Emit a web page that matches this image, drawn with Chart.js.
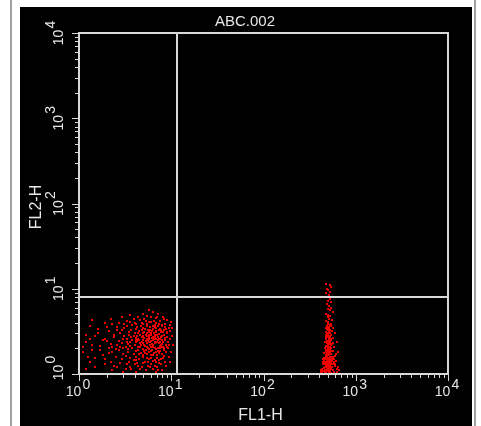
<!DOCTYPE html>
<html><head><meta charset="utf-8">
<script src="https://cdn.jsdelivr.net/npm/chart.js@4/dist/chart.umd.min.js"></script>
<style>html,body{margin:0;padding:0;background:#fff;}canvas{display:block;}</style>
</head><body>
<canvas id="c" width="481" height="426"></canvas>
<script>
const chartTitle = "ABC.002";
const xTitle = "FL1-H";
const yTitle = "FL2-H";
const decadeExponents = [0, 1, 2, 3, 4];
const quadrantX = 11.5;
const quadrantY = 8;
// FL1-H / FL2-H events, lower-left population
const lowEvents = [
[5.8,5.6],[6.3,5.3],[4.9,5.1],[7.2,5.0],[3.6,4.9],[5.4,4.8],[8.1,4.7],[2.9,4.6],[6.8,4.5],[4.4,4.6],[9.0,4.3],[5.1,4.4],[3.3,4.2],[7.6,4.2],[6.0,4.1],[2.2,4.4],[1.4,4.3],[1.9,4.0],[4.0,4.0],[8.6,3.9],
[5.5,3.9],[6.6,3.8],[3.8,3.8],[7.9,3.7],[4.7,3.7],[2.6,3.6],[5.9,3.6],[9.4,3.5],[6.9,3.5],[3.1,3.5],[4.2,3.4],[5.2,3.4],[7.3,3.3],[8.4,3.3],[1.6,3.4],[2.1,3.2],[6.2,3.2],[4.5,3.2],[5.7,3.1],[3.5,3.1],[7.7,3.1],[6.5,3.0],[4.9,3.0],[8.9,3.0],[2.8,3.0],[5.3,2.9],[6.1,2.9],[7.0,2.9],[3.9,2.8],[4.3,2.8],[1.2,2.9],[8.0,2.8],[5.8,2.7],[6.7,2.7],[2.4,2.7],[4.8,2.7],[7.5,2.6],[3.3,2.6],[5.5,2.6],[9.7,2.6],[6.3,2.5],[4.1,2.5],[7.1,2.5],[1.8,2.5],[5.0,2.5],
[5.9,2.4],[6.9,2.4],[3.6,2.4],[8.2,2.4],[4.6,2.3],[5.4,2.3],[2.9,2.3],[7.4,2.3],[6.4,2.2],[4.0,2.2],[1.4,2.2],[5.1,2.2],[8.7,2.2],[7.8,2.1],[3.2,2.1],[6.0,2.1],[4.4,2.1],[2.3,2.1],[5.6,2.0],[6.6,2.0],[9.2,2.0],[3.8,2.0],[7.2,2.0],[4.9,1.95],[2.7,1.9],[5.3,1.9],[6.2,1.9],[8.3,1.9],[1.7,1.9],[4.2,1.85],[7.6,1.85],[3.4,1.8],[5.8,1.8],[6.8,1.8],[1.1,1.8],[4.7,1.75],[2.1,1.75],[8.0,1.7],[5.5,1.7],[3.0,1.7],[6.4,1.65],[7.0,1.65],[4.1,1.6],[2.5,1.6],[5.0,1.6],[9.5,1.6],[3.6,1.55],[6.1,1.55],[1.5,1.55],[7.7,1.5],[4.5,1.5],[5.7,1.5],[2.9,1.5],
[6.6,1.45],[3.9,1.45],[8.5,1.4],[5.2,1.4],[1.3,1.4],[2.2,1.4],[7.3,1.35],[4.3,1.35],[6.0,1.3],[3.3,1.3],[1.9,1.3],[5.6,1.25],[8.8,1.25],[4.8,1.2],[2.6,1.2],[7.0,1.2],[3.7,1.15],[6.4,1.15],[1.2,1.15],[5.3,1.1],[2.3,1.1],[7.9,1.1],[4.1,1.05],[3.0,1.05],[6.8,1.05],[1.6,1.0],[5.0,1.0],[3.5,1.0],[7.5,1.0],[4.6,1.0],[2.0,1.0],[9.1,1.0],[5.9,1.0],
[1.0,3.1],[1.0,2.0],[1.0,1.6],[1.0,2.6],[1.0,1.3],
[4.3,3.6],[5.0,3.5],[6.4,3.4],[7.5,3.4],[8.6,3.6],[3.7,3.3],[5.6,3.3],[6.8,3.2],[8.1,3.1],[4.0,3.0],[5.1,3.15],[7.3,2.95],[6.0,3.05],[3.5,2.85],[4.6,2.9],[5.5,2.8],[6.4,2.75],[7.8,2.75],[8.6,2.65],[4.4,2.6],[5.1,2.65],[6.9,2.6],[3.0,2.55],[6.0,2.45],[7.6,2.4],[4.8,2.4],[5.7,2.35],[6.7,2.3],[8.0,2.25],[3.4,2.25],[4.3,2.45],[5.2,2.15],[6.3,2.05],[7.5,2.15],[4.6,2.05],[5.9,2.2],[8.9,2.1],[3.6,2.15],[6.9,1.95],[5.1,1.85],[4.4,1.9],[6.5,1.75],[7.3,1.75],[5.7,1.95],[3.9,1.7],[4.9,1.65],[6.0,1.68],[8.4,1.62],[5.4,1.55],[7.0,1.52],[3.2,1.62],[4.2,1.45],[6.3,1.42],[5.0,1.35],[7.7,1.3],[2.8,1.35],[5.9,1.2],[4.4,1.25],[6.9,1.38],[3.6,1.22],[2.4,2.9],[2.0,2.45],[1.5,2.8],[2.6,3.3],[3.1,3.9],[1.3,3.7],[2.3,3.85],[1.2,2.4],[1.7,2.15],[2.5,1.95],[9.8,3.2],[9.3,2.4],[10.2,2.8],[9.9,1.8],[10.0,4.1],[9.6,3.8],[8.3,4.4],[7.0,4.7],[6.0,4.6],[5.3,4.2],[4.6,4.3],[3.9,4.4],[6.5,4.2],[7.4,3.9],[4.1,3.9],[5.0,3.85],[5.9,3.3],[6.3,3.65],[7.1,3.65],[3.3,3.7],[4.8,3.25],[2.9,3.25],[8.3,2.9],[9.1,2.75],[1.9,2.55],[2.2,2.25],[1.4,1.9],[2.8,2.05],[1.8,1.65],[2.4,1.25],
[6.2,2.65],[7.2,2.7],[5.3,2.45],[4.7,2.2],[6.6,2.4],[7.9,2.5],[5.8,2.9],[6.9,3.1],[4.2,2.65],[3.8,2.5],[5.4,3.0],[7.6,2.0],[8.5,2.5],[6.1,1.85],[5.2,1.75],[4.5,1.7],[7.1,1.85],[8.1,2.05],[3.4,1.95],[6.5,2.55],[5.6,2.5],[4.9,2.8],[7.8,3.3],[8.8,3.4],[6.7,3.6],[5.4,3.7],[4.4,3.05],[3.1,2.8],[2.7,2.45],[2.1,2.0],[3.5,1.4],[4.0,1.3],[6.6,1.25],[7.4,1.45],[8.2,1.55],[9.4,2.2],[9.0,3.1],[10.4,2.2],[10.1,3.5],[8.0,3.8],[6.9,4.0],[5.7,4.1],[4.8,4.0],[3.6,4.1],[2.7,4.0],[2.0,3.6],[1.6,3.0],[1.3,2.6],[1.1,2.1],[1.25,1.6],[1.5,1.2],[1.9,1.5],[2.3,1.8],[2.6,2.2],[3.0,2.0],[3.3,2.35],[3.7,2.7],[4.1,2.35],[4.5,2.5],[5.0,2.3],[5.4,2.05],[5.8,2.55],[6.2,2.25],[6.6,2.85],[7.0,2.35],[7.4,2.55],[7.8,2.2],[8.4,2.0],[8.8,1.8],[9.6,1.4],[5.6,1.4],[4.6,1.15],[3.2,1.15],[7.2,1.1],[8.0,1.0],[6.4,1.0],[4.1,1.0],[2.7,1.0]
];
// FL1-H / FL2-H events, bright FL1 population
const highEvents = [
[470,11.5],[520,11.0],[545,10.5],[490,10.0],[505,9.6],[530,9.2],[480,8.8],[510,8.5],[495,8.0],[525,7.6],[500,7.2],[540,6.9],[485,6.6],[515,6.3],[535,6.0],[498,5.8],[520,5.6],[560,5.3],[480,5.1],[505,4.9],[530,4.8],[495,4.6],[515,4.4],[550,4.3],[475,4.2],[500,4.05],
[540,3.9],[520,3.8],[490,3.7],[505,3.6],[560,3.5],[480,3.45],[515,3.4],[530,3.3],[495,3.25],[550,3.2],[470,3.15],[510,3.1],[525,3.05],[600,3.0],[488,2.95],[540,2.9],[505,2.85],[520,2.8],[470,2.75],[495,2.7],[560,2.65],[530,2.6],[480,2.55],[512,2.5],[545,2.48],[500,2.45],[620,2.4],[465,2.35],[525,2.32],[490,2.3],[555,2.25],[508,2.22],[535,2.2],[478,2.15],[500,2.12],[580,2.1],[520,2.05],[460,2.02],[545,2.0],
[495,1.98],[515,1.95],[470,1.92],[530,1.9],[505,1.88],[560,1.85],[485,1.82],[640,1.8],[520,1.78],[455,1.75],[500,1.72],[540,1.7],[475,1.68],[510,1.65],[590,1.62],[490,1.6],[528,1.58],[450,1.55],[505,1.52],[550,1.5],[470,1.48],[520,1.46],[495,1.44],[610,1.42],[535,1.4],[460,1.38],[512,1.36],[485,1.34],[560,1.32],[440,1.3],[500,1.28],[530,1.26],[475,1.24],[650,1.22],[515,1.2],[455,1.18],[545,1.16],[490,1.14],[420,1.12],[525,1.1],[505,1.08],[580,1.06],[465,1.05],[540,1.04],[480,1.03],[430,1.02],[510,1.01],[560,1.0],[495,1.0],[470,1.0],[520,1.0],[450,1.0],[600,1.0],[535,1.0],[400,1.0],[680,1.0],[485,1.0],[505,1.0],[550,1.0],[460,1.0],[530,1.0],
[500,1.9],[525,1.75],[478,1.62],[548,1.55],[492,1.45],[515,1.35],[470,1.28],[535,1.22],[505,1.15],[488,1.09],[560,1.12],[455,1.45],[520,1.6],[540,1.85],[498,2.05],[512,2.35],[528,1.95],[482,1.75],[508,1.55],[545,1.3],[462,1.2],[518,1.05],[575,1.5],[590,1.25],[620,1.15],[440,1.5],[470,1.8],[500,1.4],[530,1.7],[552,1.42],[495,2.2],[510,2.6],[485,2.45],[538,2.55],[570,2.3],[525,2.75],[505,3.0],[490,3.35],[518,3.55],[545,3.7],[500,3.9],[470,2.9],
[430,1.15],[445,1.08],[470,1.12],[490,1.22],[510,1.18],[530,1.08],[550,1.2],[570,1.1],[600,1.3],[630,1.05],[455,1.3],[478,1.4],[500,1.5],[522,1.38],[540,1.5],[565,1.6],[480,1.5],[495,1.65],[515,1.72],[535,1.6],[505,1.8],[525,1.85],[490,1.9],[512,2.0],[480,2.1],[530,2.1],[500,2.3],[520,2.4],[545,2.6],[495,2.8],[515,3.2],[470,1.6],[460,1.1],[585,1.4],[610,1.7],[440,1.4],[415,1.05],[660,1.1],[540,1.35],[520,1.25],[500,1.1],[480,1.3],[510,1.45],[525,1.55],[490,1.75]
];

const FONT = '"Liberation Sans", Arial, sans-serif';
const LINE = '#d8d8d8';
const TEXT = '#e6e6e6';

// 2x2 crisp event dot
const dot = document.createElement('canvas');
dot.width = 2; dot.height = 2;
const dctx = dot.getContext('2d');
dctx.fillStyle = '#f20000';
dctx.fillRect(0, 0, 2, 2);

const flowPlugin = {
  id: 'flow',
  beforeDraw(chart) {
    const ctx = chart.ctx;
    ctx.save();
    ctx.fillStyle = '#ffffff';
    ctx.fillRect(0, 0, 481, 426);
    ctx.fillStyle = '#a0a0a0';
    ctx.fillRect(10, 0, 2, 426);
    ctx.fillRect(474, 0, 2, 426);
    ctx.fillStyle = '#000000';
    ctx.fillRect(20, 7, 452, 419);
    ctx.restore();
  },
  beforeDatasetsDraw(chart) {
    chart.ctx.imageSmoothingEnabled = false;
  },
  afterDraw(chart) {
    const ctx = chart.ctx;
    const xs = chart.scales.x, ys = chart.scales.y;
    const a = chart.chartArea;
    ctx.save();
    ctx.strokeStyle = LINE;
    ctx.lineWidth = 2;
    const qx = Math.round(xs.getPixelForValue(quadrantX));
    const qy = Math.round(ys.getPixelForValue(quadrantY));
    ctx.beginPath();
    ctx.moveTo(qx, a.top); ctx.lineTo(qx, a.bottom);
    ctx.moveTo(a.left, qy); ctx.lineTo(a.right, qy);
    ctx.stroke();
    ctx.strokeRect(a.left, a.top, a.right - a.left, a.bottom - a.top);
    ctx.lineWidth = 1;
    ctx.beginPath();
    for (let d = 0; d < 4; d++) {
      for (let m = 1; m <= 10; m++) {
        const v = m * Math.pow(10, d);
        const major = (m === 1 || m === 10);
        const len = major ? 6 : 3;
        const px = Math.round(xs.getPixelForValue(v)) + 0.5;
        ctx.moveTo(px, a.bottom); ctx.lineTo(px, a.bottom + len + 1);
        const py = Math.round(ys.getPixelForValue(v)) + 0.5;
        ctx.moveTo(a.left, py); ctx.lineTo(a.left - len - 1, py);
      }
    }
    ctx.stroke();
    ctx.fillStyle = TEXT;
    ctx.font = '14px ' + FONT;
    ctx.textBaseline = 'alphabetic';
    decadeExponents.forEach(e => {
      const v = Math.pow(10, e);
      const base = '10', sup = String(e);
      const wb = ctx.measureText(base).width, ws = ctx.measureText(sup).width;
      const total = wb + ws + 1;
      const px = xs.getPixelForValue(v) - 1;
      ctx.textAlign = 'left';
      ctx.fillText(base, px - total / 2, 396);
      ctx.fillText(sup, px - total / 2 + wb + 1, 389);
      let py = ys.getPixelForValue(v);
      if (e === 0) py -= 6;
      ctx.save();
      ctx.translate(63, py);
      ctx.rotate(-Math.PI / 2);
      ctx.fillText(base, -total / 2, 0);
      ctx.fillText(sup, -total / 2 + wb + 1, -8);
      ctx.restore();
    });
    ctx.font = '16px ' + FONT;
    ctx.textAlign = 'center';
    ctx.fillText(xTitle, (a.left + a.right) / 2 - 3, 420);
    ctx.save();
    ctx.translate(41, 207);
    ctx.rotate(-Math.PI / 2);
    ctx.fillText(yTitle, 0, 0);
    ctx.restore();
    ctx.font = '15px ' + FONT;
    ctx.fillText(chartTitle, 245, 26);
    ctx.restore();
  }
};

new Chart(document.getElementById('c'), {
  type: 'scatter',
  data: {
    datasets: [
      { data: lowEvents.map(p => ({x: p[0], y: p[1]})) },
      { data: highEvents.map(p => ({x: p[0], y: p[1]})) }
    ]
  },
  options: {
    responsive: false,
    animation: false,
    devicePixelRatio: 1,
    layout: { padding: { left: 79, top: 33, right: 33, bottom: 52 } },
    elements: { point: { pointStyle: dot, radius: 1, borderWidth: 0, backgroundColor: '#f20000', hoverRadius: 1 } },
    plugins: { legend: { display: false }, title: { display: false }, tooltip: { enabled: false } },
    scales: {
      x: { type: 'logarithmic', min: 1, max: 10000, display: false },
      y: { type: 'logarithmic', min: 1, max: 10000, display: false }
    }
  },
  plugins: [flowPlugin]
});
</script>
</body></html>
